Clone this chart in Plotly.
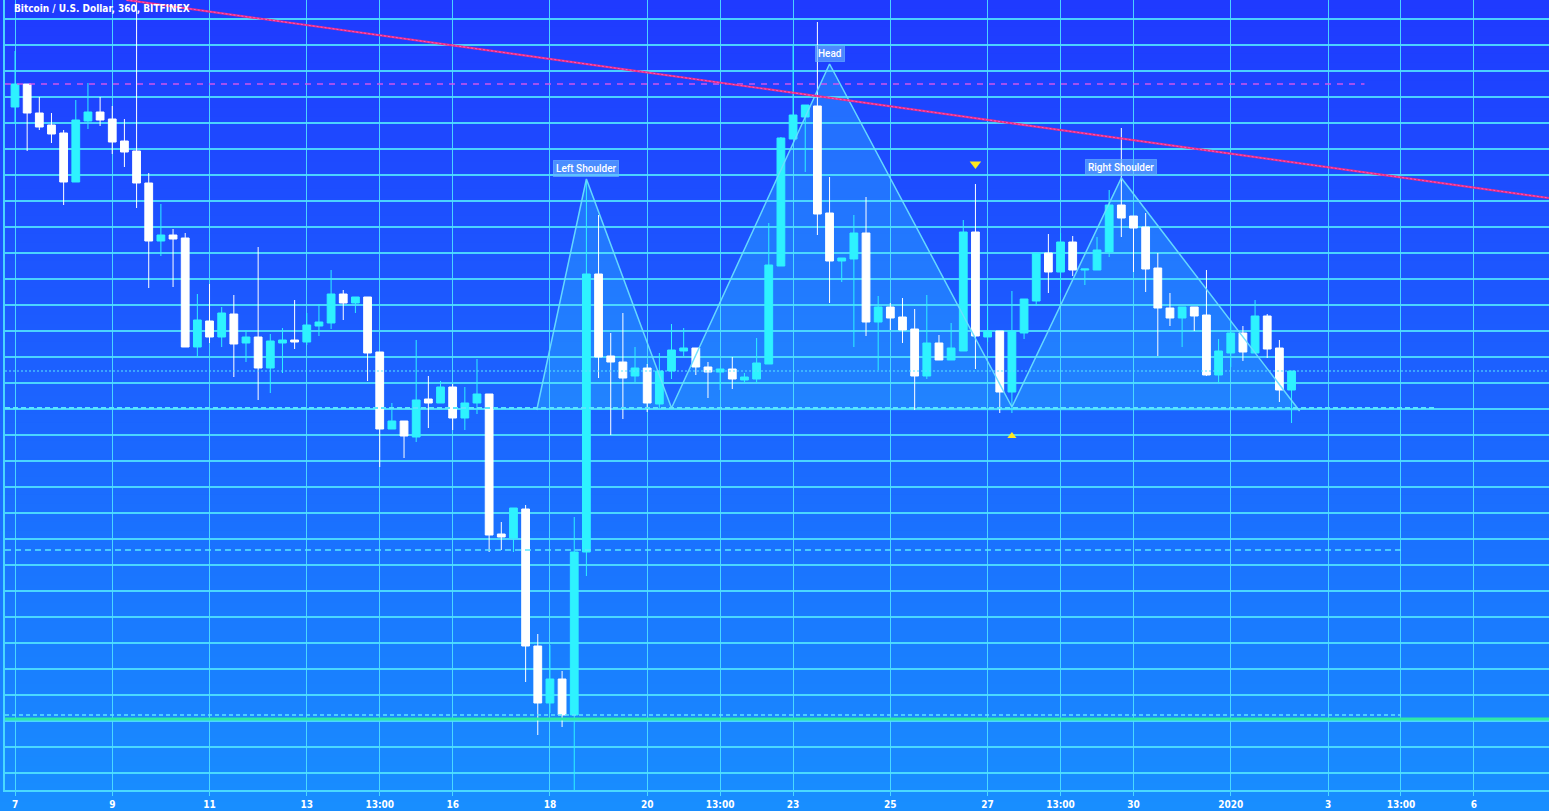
import plotly.graph_objects as go
import pandas as pd

TITLE = "Bitcoin / U.S. Dollar, 360, BITFINEX"
candle_times = pd.date_range("2019-12-07 00:00", periods=106, freq="6h")

opens = [7636, 7682, 7624, 7600, 7584, 7486, 7608, 7626, 7612, 7568,
         7548, 7484, 7368, 7380, 7374, 7156, 7208, 7176, 7222, 7164,
         7176, 7114, 7164, 7170, 7166, 7198, 7204, 7262, 7244, 7256,
         7146, 6992, 7008, 6976, 7052, 7044, 7076, 7014, 7044, 7062,
         6782, 6774, 6832, 6558, 6444, 6492, 6420, 6746, 7302, 7138,
         7126, 7098, 7114, 7042, 7108, 7148, 7154, 7116, 7106, 7112,
         7090, 7092, 7122, 7318, 7572, 7616, 7638, 7424, 7328, 7332,
         7384, 7206, 7236, 7216, 7192, 7098, 7164, 7130, 7148, 7386,
         7176, 7188, 7066, 7184, 7248, 7344, 7306, 7366, 7310, 7310,
         7346, 7440, 7418, 7396, 7314, 7234, 7214, 7236, 7220, 7100,
         7144, 7184, 7144, 7218, 7154, 7070]
highs = [7748, 7682, 7656, 7624, 7590, 7650, 7684, 7656, 7638, 7612,
         7870, 7504, 7442, 7392, 7384, 7262, 7282, 7236, 7260, 7190,
         7356, 7182, 7194, 7250, 7224, 7242, 7310, 7270, 7256, 7256,
         7146, 7044, 7008, 7170, 7098, 7088, 7082, 7076, 7132, 7062,
         6806, 6834, 6840, 6582, 6560, 6508, 6816, 7486, 7420, 7184,
         7224, 7156, 7122, 7144, 7202, 7194, 7154, 7126, 7112, 7136,
         7104, 7174, 7404, 7576, 7760, 7640, 7806, 7496, 7334, 7420,
         7456, 7258, 7244, 7254, 7232, 7260, 7180, 7204, 7410, 7482,
         7236, 7188, 7268, 7252, 7344, 7382, 7384, 7378, 7312, 7376,
         7470, 7594, 7418, 7424, 7344, 7264, 7236, 7236, 7310, 7172,
         7210, 7198, 7250, 7222, 7170, 7108]
lows = [7602, 7548, 7590, 7564, 7440, 7486, 7592, 7598, 7542, 7516,
        7434, 7274, 7338, 7276, 7156, 7136, 7164, 7156, 7096, 7126,
        7050, 7064, 7104, 7152, 7160, 7178, 7192, 7210, 7224, 7088,
        6916, 6992, 6934, 6966, 6994, 7044, 6990, 6990, 7022, 6746,
        6750, 6746, 6486, 6380, 6424, 6396, 6260, 6698, 7094, 6980,
        7012, 7086, 7026, 7034, 7092, 7138, 7100, 7054, 7070, 7072,
        7084, 7084, 7122, 7318, 7572, 7506, 7380, 7244, 7286, 7156,
        7178, 7110, 7190, 7164, 7030, 7092, 7130, 7130, 7148, 7112,
        7166, 7024, 7024, 7172, 7238, 7264, 7264, 7298, 7280, 7310,
        7336, 7376, 7306, 7266, 7138, 7198, 7156, 7188, 7098, 7084,
        7116, 7128, 7144, 7134, 7046, 7004]
closes = [7682, 7624, 7596, 7582, 7486, 7610, 7626, 7610, 7566, 7546,
          7484, 7368, 7380, 7372, 7156, 7210, 7176, 7224, 7162, 7176,
          7114, 7168, 7170, 7166, 7200, 7206, 7262, 7244, 7256, 7144,
          6992, 7008, 6978, 7050, 7044, 7076, 7014, 7044, 7062, 6780,
          6776, 6834, 6558, 6444, 6492, 6420, 6746, 7302, 7136, 7126,
          7094, 7114, 7044, 7108, 7150, 7154, 7116, 7106, 7112, 7092,
          7096, 7124, 7320, 7574, 7620, 7640, 7422, 7328, 7334, 7384,
          7206, 7236, 7214, 7190, 7098, 7164, 7130, 7154, 7386, 7178,
          7188, 7066, 7188, 7252, 7344, 7306, 7366, 7310, 7312, 7350,
          7440, 7414, 7394, 7312, 7234, 7214, 7236, 7218, 7100, 7148,
          7184, 7146, 7218, 7152, 7070, 7108]

tick_dates = ["2019-12-07", "2019-12-09", "2019-12-11", "2019-12-13", "2019-12-14 12:00",
              "2019-12-16", "2019-12-18", "2019-12-20", "2019-12-21 12:00", "2019-12-23",
              "2019-12-25", "2019-12-27", "2019-12-28 12:00", "2019-12-30", "2020-01-01",
              "2020-01-03", "2020-01-04 12:00", "2020-01-06"]
tick_labels = ["7", "9", "11", "13", "13:00", "16", "18", "20", "13:00", "23",
               "25", "27", "13:00", "30", "2020", "3", "13:00", "6"]

# Head & shoulders drawing anchors
hs_times = ["2019-12-17 17:30", "2019-12-18 18:00", "2019-12-20 12:00", "2019-12-23 18:00",
            "2019-12-27 12:00", "2019-12-29 18:00", "2020-01-02 10:00"]
hs_prices = [7030, 7492, 7034, 7722, 7036, 7494, 7028]
hs_labels = ["Left Shoulder", "Head", "Right Shoulder"]
hs_label_times = ["2019-12-18 18:00", "2019-12-23 18:00", "2019-12-29 18:00"]
hs_label_prices = [7514, 7744, 7516]

# trend line anchors
trend_times = ["2019-12-09 07:00", "2020-01-07 13:00"]
trend_prices = [7850, 7454]

# horizontal levels: price, end time (None = right edge), color, dash, width
level_prices = [7682, 7108, 7034, 6750, 6420, 6412]
level_ends = ["2020-01-03 18:00", None, "2020-01-05 05:00", "2020-01-04 12:00", "2020-01-04 12:00", None]
level_colors = ["rgba(215,85,235,0.95)", "#5ae8ff", "#5ae8ff", "#5ae8ff", "#5ae8ff", "#2ee8a8"]
level_dashes = ["6px,6px", "2px,2px", "5px,3px", "6px,4px", "4px,3px", "solid"]
level_widths = [1.3, 1.2, 1.8, 1.6, 1.6, 3]

marker_down_time, marker_down_price = "2019-12-26 18:00", 7522
marker_up_time, marker_up_price = "2019-12-27 12:00", 6978

PX_PER_DAY = 48.63
x0 = pd.Timestamp("2019-12-07") - pd.Timedelta(days=10 / PX_PER_DAY)
x1 = x0 + pd.Timedelta(days=1544 / PX_PER_DAY)

fig = go.Figure()

# background gradient bands
N = 90
top_rgb = (31, 58, 255)
bot_rgb = (24, 142, 255)
plot_h = 790.0
total_h = 811.0
shapes = []
for k in range(N):
    t0 = k / N
    t1 = (k + 1) / N
    tm = (t0 + t1) / 2
    c = tuple(int(round(top_rgb[j] + (bot_rgb[j] - top_rgb[j]) * tm)) for j in range(3))
    y_top = 1 - t0 * total_h / plot_h
    y_bot = 1 - t1 * total_h / plot_h
    shapes.append(dict(type="rect", xref="paper", yref="paper", x0=-0.01, x1=1.01,
                       y0=y_bot - 0.001, y1=y_top + 0.001, layer="below",
                       fillcolor="rgb(%d,%d,%d)" % c, line=dict(width=0)))

# H&S filled polygon as a shape below the candles
def ms(t):
    return pd.Timestamp(t).value // 10**6

path = "M " + " L ".join("%d,%s" % (ms(t), p) for t, p in zip(hs_times, hs_prices)) + " Z"
shapes.append(dict(type="path", xref="x", yref="y", path=path, layer="below",
                   fillcolor="rgba(45,185,255,0.36)", line=dict(width=0)))

# horizontal levels
for p, e, c, d, w in zip(level_prices, level_ends, level_colors, level_dashes, level_widths):
    fig.add_trace(go.Scatter(x=[x0, pd.Timestamp(e) if e else x1], y=[p, p], mode="lines",
                             line=dict(color=c, dash=d, width=w), hoverinfo="skip", showlegend=False))

fig.add_trace(go.Candlestick(
    x=candle_times, open=opens, high=highs, low=lows, close=closes,
    increasing=dict(line=dict(color="#2ef2ff", width=1), fillcolor="#2ef2ff"),
    decreasing=dict(line=dict(color="#ffffff", width=1), fillcolor="#ffffff"),
    whiskerwidth=0, showlegend=False, hoverinfo="skip"))

# H&S edges
fig.add_trace(go.Scatter(x=hs_times, y=hs_prices, mode="lines",
                         line=dict(color="rgba(105,222,255,0.95)", width=1.5),
                         hoverinfo="skip", showlegend=False))

# trend line
fig.add_trace(go.Scatter(x=trend_times, y=trend_prices, mode="lines",
                         line=dict(color="#e8307e", width=2.2), hoverinfo="skip", showlegend=False))
fig.add_trace(go.Scatter(x=trend_times, y=trend_prices, mode="lines",
                         line=dict(color="#ff50d0", width=1, dash="2px,2px"), hoverinfo="skip", showlegend=False))

# yellow markers
fig.add_trace(go.Scatter(x=[marker_down_time], y=[marker_down_price], mode="markers",
                         marker=dict(symbol="triangle-down", size=10, color="#ffe820"),
                         hoverinfo="skip", showlegend=False))
fig.add_trace(go.Scatter(x=[marker_up_time], y=[marker_up_price], mode="markers",
                         marker=dict(symbol="triangle-up", size=8, color="#ffe820"),
                         hoverinfo="skip", showlegend=False))

annotations = []
for lab, t, p in zip(hs_labels, hs_label_times, hs_label_prices):
    annotations.append(dict(x=t, y=p, xref="x", yref="y", text=lab, showarrow=False,
                            font=dict(family="Roboto, Open Sans, sans-serif", size=10, color="white",
                                      weight=500),
                            bgcolor="rgba(105,185,255,0.6)", bordercolor="rgba(105,185,255,0.6)",
                            borderpad=2, borderwidth=1, xanchor="center", yanchor="middle"))
annotations.append(dict(x=(12 - 5) / 1544, y=1 - 9 / 790, xref="paper", yref="paper", text=TITLE,
                        showarrow=False, xanchor="left", yanchor="middle",
                        font=dict(family="Liberation Sans Narrow, DejaVu Sans Condensed, Arial Narrow, sans-serif",
                                  size=10, color="white", weight="bold")))

GRID = "rgba(80,225,255,0.9)"
fig.update_layout(
    width=1549, height=811, autosize=False,
    margin=dict(l=5, r=0, t=0, b=21, pad=0),
    paper_bgcolor="rgb(24,142,255)", plot_bgcolor="rgba(0,0,0,0)",
    shapes=shapes, annotations=annotations, showlegend=False, hovermode=False,
    boxgap=0.2, boxgroupgap=0.2,
    xaxis=dict(type="date", range=[x0, x1], tickvals=tick_dates, ticktext=tick_labels,
               showgrid=True, gridcolor=GRID, gridwidth=1.2, zeroline=False,
               showline=True, linecolor=GRID, linewidth=1.5, ticks="outside", ticklen=4,
               tickcolor=GRID, rangeslider=dict(visible=False),
               tickfont=dict(family="Liberation Sans Narrow, DejaVu Sans Condensed, Arial Narrow, sans-serif",
                             size=10, color="white", weight="bold")),
    yaxis=dict(range=[6270, 7850], tick0=7812, dtick=52, showgrid=True, gridcolor=GRID,
               gridwidth=1.6, zeroline=False, showticklabels=False, showline=True,
               linecolor=GRID, linewidth=1.5, ticks=""),
)

fig.write_html("out.html", config={"displayModeBar": False},
               post_script="document.body.style.margin='0';document.body.style.overflow='hidden';")
